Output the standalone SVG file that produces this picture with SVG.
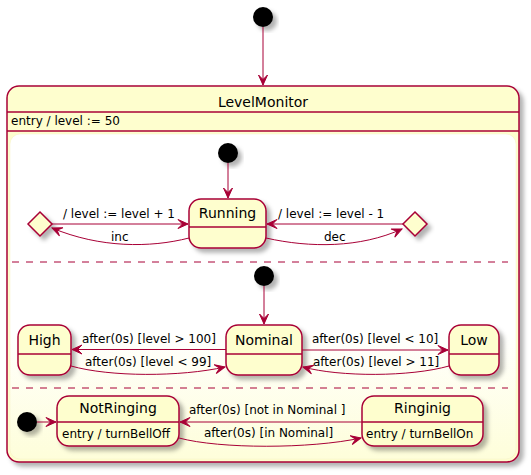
<svg xmlns="http://www.w3.org/2000/svg" width="531" height="475" viewBox="0 0 531 475">
<defs>
<filter id="sh" x="-20%" y="-20%" width="150%" height="150%">
<feGaussianBlur in="SourceAlpha" stdDeviation="2"/>
<feOffset dx="4" dy="4" result="b"/>
<feFlood flood-color="#000" flood-opacity="0.3"/>
<feComposite in2="b" operator="in" result="s"/>
<feMerge><feMergeNode in="s"/><feMergeNode in="SourceGraphic"/></feMerge>
</filter>
<linearGradient id="ig" x1="0" y1="0" x2="0" y2="1">
<stop offset="0" stop-color="#FFFFFF"/>
<stop offset="0.6" stop-color="#FFFFFF"/>
<stop offset="1" stop-color="#FEFEDA"/>
</linearGradient>
<marker id="ah" viewBox="-11 -6 13 12" refX="0" refY="0" markerWidth="13" markerHeight="12" markerUnits="userSpaceOnUse" orient="auto">
<path d="M0,0 L-10,-4.5 L-5.5,0 L-10,4.5 Z" fill="#A80036" stroke="#A80036" stroke-width="1"/>
</marker>
</defs>
<style>
.box{fill:#FEFECE;stroke:#A80036;stroke-width:1.5}
.sep{stroke:#A80036;stroke-width:1.5}
.ln{fill:none;stroke:#A80036;stroke-width:1;marker-end:url(#ah)}
.init{fill:#000;filter:url(#sh)}
.t{font-family:"DejaVu Sans",sans-serif;font-size:14px;fill:#000;text-anchor:middle}
.l{font-family:"DejaVu Sans",sans-serif;font-size:12px;fill:#000}
.dash{stroke:#A80036;stroke-width:1;stroke-dasharray:7,7}
</style>

<g id="start">
<circle class="init" cx="263" cy="17" r="10"/>
</g>

<g id="LevelMonitor">
<rect class="box" x="7" y="86" width="512" height="376" rx="12" filter="url(#sh)"/>
<text class="t" x="263" y="107">LevelMonitor</text>
<line class="sep" x1="7" y1="112" x2="519" y2="112"/>
<text class="l" x="11" y="125">entry / level := 50</text>
<line class="sep" x1="7" y1="131" x2="519" y2="131"/>
<rect x="10" y="134" width="506" height="325" rx="10" fill="url(#ig)" stroke="#F4F1C8" stroke-width="0.5"/>
<line class="dash" x1="12" y1="262" x2="508" y2="262"/>
<line class="dash" x1="12" y1="388" x2="508" y2="388"/>
</g>

<g id="init1"><circle class="init" cx="228" cy="153" r="10"/></g>
<g id="Running">
<rect class="box" x="189" y="199" width="77" height="49" rx="12" filter="url(#sh)"/>
<text class="t" x="227.5" y="218">Running</text>
<line class="sep" x1="189" y1="227" x2="266" y2="227"/>
</g>
<g id="choiceInc"><polygon class="box" points="40,212 52,224 40,236 28,224" filter="url(#sh)"/></g>
<g id="choiceDec"><polygon class="box" points="415,212 427,224 415,236 403,224" filter="url(#sh)"/></g>

<g id="init2"><circle class="init" cx="264" cy="276" r="10"/></g>
<g id="High">
<rect class="box" x="18" y="325" width="53" height="50" rx="12" filter="url(#sh)"/>
<text class="t" x="44.5" y="345">High</text>
<line class="sep" x1="18" y1="354" x2="71" y2="354"/>
</g>
<g id="Nominal">
<rect class="box" x="226" y="325" width="76" height="50" rx="12" filter="url(#sh)"/>
<text class="t" x="264" y="345">Nominal</text>
<line class="sep" x1="226" y1="354" x2="302" y2="354"/>
</g>
<g id="Low">
<rect class="box" x="449" y="325" width="50" height="50" rx="12" filter="url(#sh)"/>
<text class="t" x="474" y="345">Low</text>
<line class="sep" x1="449" y1="354" x2="499" y2="354"/>
</g>

<g id="init3"><circle class="init" cx="27" cy="422" r="10"/></g>
<g id="NotRinging">
<rect class="box" x="57" y="396" width="122" height="50" rx="12" filter="url(#sh)"/>
<text class="t" x="118" y="413">NotRinging</text>
<line class="sep" x1="57" y1="422" x2="179" y2="422"/>
<text class="l" x="62" y="438">entry / turnBellOff</text>
</g>
<g id="Ringinig">
<rect class="box" x="362" y="396" width="121" height="50" rx="12" filter="url(#sh)"/>
<text class="t" x="422.5" y="413">Ringinig</text>
<line class="sep" x1="362" y1="422" x2="483" y2="422"/>
<text class="l" x="366" y="438">entry / turnBellOn</text>
</g>

<g id="connectors">
<path class="ln" d="M263,27 L263,85"/>
<path class="ln" d="M228,163 L228,198"/>
<path class="ln" d="M52,224 L188,224"/>
<text class="l" x="63" y="218">/ level := level + 1</text>
<path class="ln" d="M189,238 C150,248 100,248 52,228"/>
<text class="l" x="111" y="241">inc</text>
<path class="ln" d="M403,224 L267,224"/>
<text class="l" x="278" y="218">/ level := level - 1</text>
<path class="ln" d="M266,238 C310,248 360,248 402,229"/>
<text class="l" x="324" y="241">dec</text>

<path class="ln" d="M264,286 L264,324"/>
<path class="ln" d="M226,349.5 L72,349.5"/>
<text class="l" x="82" y="343">after(0s) [level &gt; 100]</text>
<path class="ln" d="M71,366 C110,377 180,377 225,367"/>
<text class="l" x="85" y="366">after(0s) [level &lt; 99]</text>
<path class="ln" d="M302,350 L448,350"/>
<text class="l" x="312" y="343">after(0s) [level &lt; 10]</text>
<path class="ln" d="M449,366 C410,377 340,377 303,367"/>
<text class="l" x="313" y="366">after(0s) [level &gt; 11]</text>

<path class="ln" d="M37,422 L56,422"/>
<path class="ln" d="M362,422 L180,422"/>
<text class="l" x="189" y="414">after(0s) [not in Nominal ]</text>
<path class="ln" d="M179,438 C220,449 310,449 361,438"/>
<text class="l" x="204" y="437">after(0s) [in Nominal]</text>
</g>
</svg>
